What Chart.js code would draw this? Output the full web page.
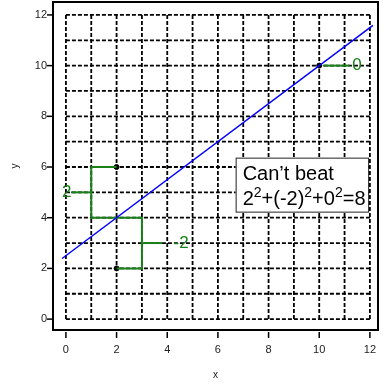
<!DOCTYPE html>
<html>
<head>
<meta charset="utf-8">
<script src="https://cdn.jsdelivr.net/npm/chart.js@4.4.1/dist/chart.umd.min.js"></script>
<style>
  html, body { margin: 0; padding: 0; background: #fff; }
  #wrap { width: 383px; height: 384px; }
</style>
</head>
<body>
<div id="wrap"><canvas id="chart"></canvas></div>
<script>
// observed points and the fitted line
const pointX = [2, 2, 10]
const pointY = [6, 2, 10]
const fitX = [-0.15, 12.12]
const fitY = [2.39, 11.59]

// residual brackets and label leaders (green)
const bracketX = [2, 1, 1, 3, 3, 2]
const bracketY = [6, 6, 4, 4, 2, 2]
const leaders = [
  { x: [1, 0.2], y: [5, 5] },
  { x: [3, 3.8], y: [3, 3] },
  { x: [10.15, 11.2], y: [10, 10] }
]
const residLabels = ['2', '-2', '0']
const residLabelX = [-0.15, 4.25, 11.3]
const residLabelY = [5, 3, 10]

// axes
const xTicks = [0, 2, 4, 6, 8, 10, 12]
const yTicks = [0, 2, 4, 6, 8, 10, 12]
const gridVals = [0, 1, 2, 3, 4, 5, 6, 7, 8, 9, 10, 11, 12]

// note box (data coords of its corners)
const noteBox = { x0: 6.7, x1: 11.93, y0: 6.37, y1: 4.24 }

const green = '#1a801a'
const font = '"Liberation Sans", Arial, sans-serif'

const toPts = (xs, ys) => xs.map((x, i) => ({ x: x, y: ys[i] }))

const lineSet = (xs, ys, color, width) => ({
  type: 'line',
  data: toPts(xs, ys),
  borderColor: color,
  borderWidth: width,
  pointRadius: 0,
  fill: false,
  tension: 0
})

const decor = {
  id: 'decor',
  beforeDatasetsDraw(chart) {
    const { ctx, scales: { x, y } } = chart
    ctx.save()
    ctx.strokeStyle = '#000'
    ctx.lineWidth = 1.8
    ctx.setLineDash([4, 2])
    gridVals.forEach(v => {
      const py = y.getPixelForValue(v)
      ctx.beginPath()
      ctx.moveTo(x.getPixelForValue(0), py)
      ctx.lineTo(x.getPixelForValue(12), py)
      ctx.stroke()
      const px = x.getPixelForValue(v)
      ctx.beginPath()
      ctx.moveTo(px, y.getPixelForValue(0))
      ctx.lineTo(px, y.getPixelForValue(12))
      ctx.stroke()
    })
    ctx.restore()
  },
  afterDraw(chart) {
    const { ctx, chartArea: a, scales: { x, y } } = chart
    ctx.save()

    // frame
    ctx.strokeStyle = '#000'
    ctx.lineWidth = 2
    ctx.strokeRect(a.left, a.top, a.right - a.left, a.bottom - a.top)

    // tick marks and y tick labels
    ctx.lineWidth = 1.5
    xTicks.forEach(v => {
      const px = x.getPixelForValue(v)
      ctx.beginPath()
      ctx.moveTo(px, a.bottom + 2)
      ctx.lineTo(px, a.bottom + 8)
      ctx.stroke()
    })
    ctx.fillStyle = '#222'
    ctx.font = '11px ' + font
    ctx.textAlign = 'right'
    ctx.textBaseline = 'middle'
    yTicks.forEach(v => {
      const py = y.getPixelForValue(v)
      ctx.beginPath()
      ctx.moveTo(a.left - 6, py)
      ctx.lineTo(a.left - 1, py)
      ctx.stroke()
      ctx.fillText(String(v), a.left - 6, py)
    })

    // axis titles
    ctx.font = '10px ' + font
    ctx.textAlign = 'center'
    ctx.fillText('x', (a.left + a.right) / 2, 375)
    ctx.save()
    ctx.translate(15, (a.top + a.bottom) / 2)
    ctx.rotate(-Math.PI / 2)
    ctx.fillText('y', 0, 0)
    ctx.restore()

    // residual labels
    ctx.fillStyle = green
    ctx.font = '17px ' + font
    ctx.textAlign = 'left'
    residLabels.forEach((t, i) => {
      ctx.fillText(t, x.getPixelForValue(residLabelX[i]), y.getPixelForValue(residLabelY[i]))
    })

    // note box
    const bx0 = x.getPixelForValue(noteBox.x0)
    const bx1 = x.getPixelForValue(noteBox.x1)
    const by0 = y.getPixelForValue(noteBox.y0)
    const by1 = y.getPixelForValue(noteBox.y1)
    ctx.fillStyle = '#fff'
    ctx.fillRect(bx0, by0, bx1 - bx0, by1 - by0)
    ctx.strokeStyle = '#222'
    ctx.lineWidth = 1
    ctx.strokeRect(bx0 + 0.5, by0 + 0.5, bx1 - bx0, by1 - by0)

    ctx.fillStyle = '#000'
    ctx.textBaseline = 'alphabetic'
    ctx.font = '20px ' + font
    const tx = bx0 + 7
    ctx.fillText('Can\u2019t beat', tx, by0 + 22)
    // second line with superscripts
    const parts = [['2', 0], ['2', 1], ['+(-2)', 0], ['2', 1], ['+0', 0], ['2', 1], ['=8', 0]]
    let cx = tx
    const base = by0 + 47
    parts.forEach(([s, sup]) => {
      ctx.font = (sup ? '14px ' : '20px ') + font
      ctx.fillText(s, cx, sup ? base - 8 : base)
      cx += ctx.measureText(s).width
    })
    ctx.restore()
  }
}

new Chart(document.getElementById('chart'), {
  type: 'scatter',
  data: {
    datasets: [
      lineSet(fitX, fitY, '#0000ff', 1.5),
      lineSet(bracketX, bracketY, green, 2),
      ...leaders.map(l => lineSet(l.x, l.y, green, 2)),
      {
        type: 'scatter',
        data: toPts(pointX, pointY),
        backgroundColor: '#000',
        borderColor: '#000',
        pointRadius: 2.5
      }
    ]
  },
  plugins: [decor],
  options: {
    responsive: true,
    maintainAspectRatio: false,
    animation: false,
    layout: { autoPadding: false, padding: { top: 2, right: 5, left: 0, bottom: 0 } },
    plugins: { legend: { display: false }, tooltip: { enabled: false } },
    scales: {
      x: {
        type: 'linear',
        min: -0.51,
        max: 12.32,
        afterFit: s => { s.height = 54; s.paddingLeft = 0; s.paddingRight = 0 },
        afterBuildTicks: s => { s.ticks = xTicks.map(v => ({ value: v })) },
        grid: { display: false, drawTicks: false },
        border: { display: false },
        ticks: { color: '#222', font: { family: font, size: 11 }, padding: 13, maxRotation: 0, autoSkip: false }
      },
      y: {
        type: 'linear',
        min: -0.43,
        max: 12.51,
        afterFit: s => { s.width = 53; s.paddingTop = 0; s.paddingBottom = 0 },
        afterBuildTicks: s => { s.ticks = yTicks.map(v => ({ value: v })) },
        grid: { display: false, drawTicks: false },
        border: { display: false },
        ticks: { display: false }
      }
    }
  }
})
</script>
</body>
</html>
